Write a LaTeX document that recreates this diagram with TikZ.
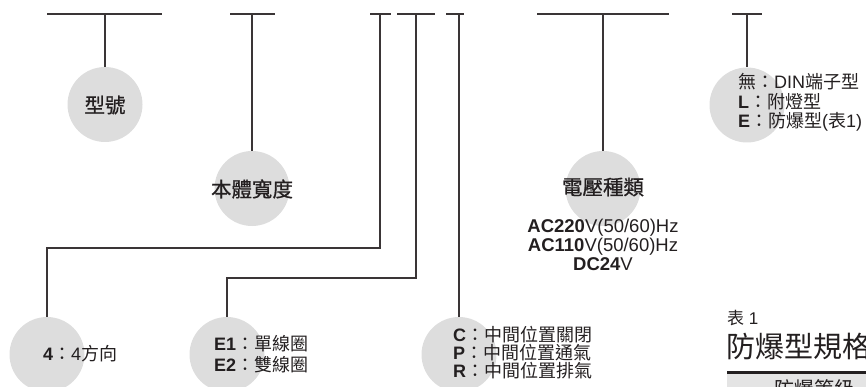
\documentclass[tikz,border=0pt]{standalone}
\usepackage{fontspec}
\setmainfont{Liberation Sans}
\newfontfamily\cjk{Noto Sans CJK TC}
\newfontfamily\cjkh[FakeBold=0.8]{Noto Sans CJK TC}
\newcommand{\zh}[1]{{\cjk #1}}
\definecolor{ink}{HTML}{231F20}
\definecolor{wirec}{HTML}{3A3536}
\definecolor{discc}{HTML}{DDDDDD}
\definecolor{bandc}{HTML}{E4E4E4}
\begin{document}
\begin{tikzpicture}[x=1pt,y=-1pt,
  wire/.style={draw=wirec, line width=1.5pt},
  disc/.style={circle, fill=discc, minimum size=75pt, inner sep=0pt},
  head/.style={font=\cjkh\fontsize{20.5}{22}\selectfont, text=ink, inner sep=0pt},
  opt/.style={anchor=west, align=left, text=ink, inner sep=0pt},
  volt/.style={align=center, text=ink, inner sep=0pt, font=\fontsize{18.5}{19}\selectfont}]
\useasboundingbox (0,0) rectangle (866,387);
\clip (0,0) rectangle (866,387);
% top bars
\coordinate (t1) at (105,14);
\coordinate (t2) at (252,14);
\coordinate (t3) at (380,14);
\coordinate (t4) at (416,14);
\coordinate (t5) at (459,14);
\coordinate (t6) at (603,14);
\coordinate (t7) at (747,14);
\draw[wire] (47,14) -- (162,14);
\draw[wire] (230,14) -- (275,14);
\draw[wire] (370,14) -- (391,14);
\draw[wire] (397,14) -- (435,14);
\draw[wire] (446,14) -- (464,14);
\draw[wire] (537,14) -- (669,14);
\draw[wire] (732,14) -- (762,14);
% discs
\node[disc] (c1) at (105,104.5) {};
\node[disc] (c2) at (252,188.5) {};
\node[disc] (c4) at (47,354.5) {};
\node[disc] (c5) at (227,354.5) {};
\node[disc] (c6) at (459,354.5) {};
\node[disc] (c7) at (603,188.5) {};
\node[disc] (c8) at (747,105) {};
% connectors
\draw[wire] (t1) -- (c1.north);
\draw[wire] (t2) -- (c2.north);
\draw[wire] (t3) -- ++(0,234) -| (c4.north);
\draw[wire] (t4) -- ++(0,264) -| (c5.north);
\draw[wire] (t5) -- (c6.north);
\draw[wire] (t6) -- (c7.north);
\draw[wire] (t7) -- (c8.north);
% headings
\node[head] (h1) at (105,105) {型號};
\node[head] (h2) at (252,189) {本體寬度};
\node[head] (h7) at (603,187) {電壓種類};
% options
\node[volt] (v7) at (603,245) {\textbf{AC220}V(50/60)Hz\\\textbf{AC110}V(50/60)Hz\\\textbf{DC24}V};
\node[opt, font=\fontsize{18}{19.5}\selectfont] (o8) at (738,102.5)
  {\zh{無：}DIN\zh{端子型}\\\textbf{L}\zh{：附燈型}\\\textbf{E}\zh{：防爆型}(\zh{表}1)};
\node[opt, font=\fontsize{18}{19}\selectfont] (o4) at (43,354) {\textbf{4}\zh{：}4\zh{方向}};
\node[opt, font=\fontsize{18}{21.5}\selectfont] (o5) at (214,354) {\textbf{E1}\zh{：單線圈}\\\textbf{E2}\zh{：雙線圈}};
\node[opt, font=\fontsize{18}{18}\selectfont] (o6) at (453,352.5)
  {\textbf{C}\zh{：中間位置關閉}\\\textbf{P}\zh{：中間位置通氣}\\\textbf{R}\zh{：中間位置排氣}};
% table 1
\node[opt, font=\fontsize{17}{17}\selectfont] (tb) at (727,318) {\zh{表} 1};
\node[opt, font=\fontsize{29}{29}\selectfont] (tt) at (726,346) {\zh{防爆型規格}};
\fill[bandc] (727,374) rectangle (870,400);
\draw[ink, line width=3pt] (727,372) -- (870,372);
\node[anchor=north west, text=ink, inner sep=0pt, font=\fontsize{20}{20}\selectfont] (tr) at (774,379) {\zh{防爆等級}};
\end{tikzpicture}
\end{document}
